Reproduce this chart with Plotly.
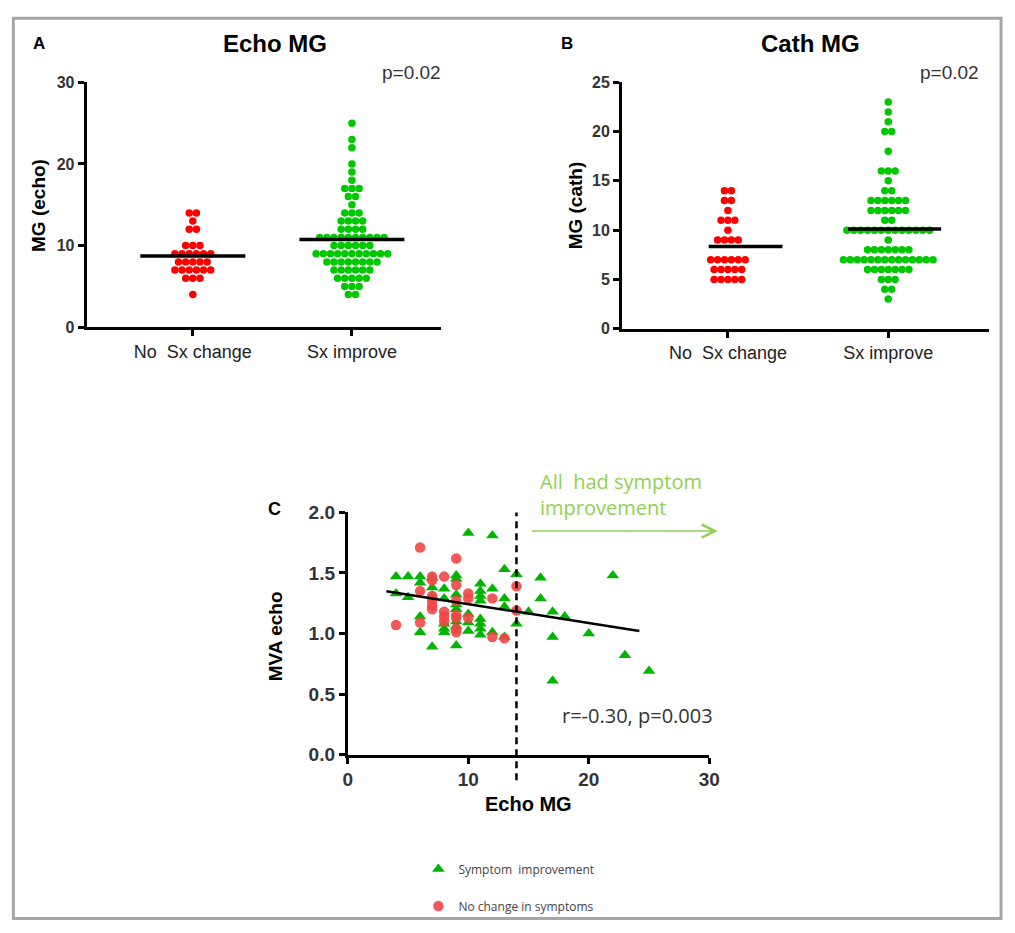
import numpy as np
import plotly.graph_objects as go
from collections import Counter

# ---------------- data ----------------
categories = ["No  Sx change", "Sx improve"]
echo_ticks = [0, 10, 20, 30]
cath_ticks = [0, 5, 10, 15, 20, 25]
c_x_ticks = [0, 10, 20, 30]
c_y_ticks = [0.0, 0.5, 1.0, 1.5, 2.0]

echo_no_change = [14, 14, 13, 12, 12, 10, 10, 10] + [9] * 6 + [8] * 5 + [7] * 6 + [6] * 3 + [4]
echo_improve = ([25, 23, 22, 20, 19, 18, 17, 17, 17, 16, 16, 15, 14, 14, 14] + [13] * 4 + [12] * 4
                + [11] * 10 + [10] * 6 + [9] * 11 + [8] * 8 + [7] * 6 + [6] * 5 + [5] * 3 + [4] * 2)

cath_no_change = [14, 14, 13, 13, 12, 11, 11, 11, 10] + [9] * 4 + [7] * 6 + [6] * 5 + [5] * 5
cath_improve = ([23, 22, 21, 20, 20, 18, 16, 16, 16, 15, 14, 14] + [13] * 6 + [12] * 6 + [11] * 2
                + [10] * 13 + [9] + [8] * 7 + [7] * 14 + [6] * 7 + [5] * 3 + [4] * 2 + [3])

# Panel C: echo MG vs MVA echo
imp_mg = [10, 12, 4, 5, 6, 6, 7, 9, 9, 13, 14, 16, 22, 16, 15, 17, 18, 14, 17, 20, 23, 25, 17, 7, 9,
          6, 6, 4, 5, 7, 7, 8, 8, 8, 8, 8, 9, 9, 9, 9, 9, 10, 10, 10, 11, 11, 11, 11, 11, 11, 11, 11,
          12, 12, 13, 13, 13]
imp_mva = [1.83, 1.81, 1.47, 1.47, 1.47, 1.42, 1.46, 1.48, 1.45, 1.53, 1.49, 1.46, 1.48, 1.29, 1.18,
           1.18, 1.14, 1.08, 0.97, 1.00, 0.82, 0.69, 0.61, 0.89, 0.90,
           1.01, 1.14, 1.33, 1.30, 1.38, 1.31, 1.37, 1.29, 1.08, 1.04, 1.01, 1.32, 1.24, 1.20, 1.10,
           1.06, 1.16, 1.09, 1.02, 1.41, 1.35, 1.31, 1.27, 1.12, 1.08, 1.04, 0.99,
           1.37, 1.01, 1.29, 1.22, 0.97]
noc_mg = [6, 9, 7, 7, 8, 9, 14, 6, 7, 7, 7, 7, 8, 8, 8, 9, 9, 9, 9, 10, 10, 10, 12, 12, 13, 14, 4, 6, 9]
noc_mva = [1.71, 1.62, 1.47, 1.44, 1.47, 1.40, 1.39, 1.35, 1.31, 1.27, 1.23, 1.20, 1.18, 1.14, 1.10,
           1.27, 1.15, 1.13, 1.01, 1.33, 1.29, 1.13, 1.29, 0.97, 0.96, 1.19, 1.07, 1.09, 1.04]

fit_slope = -0.0157
fit_intercept = 1.40
fit_x_span = [3.2, 24.2]
threshold_mg = 14

# ---------------- helpers ----------------
W, H = 1015, 933


def px(x):
    return x / W


def py(y):
    return 1 - y / H


def swarm(values, center, step):
    counts = Counter(values)
    xs, ys = [], []
    for v in sorted(counts):
        n = counts[v]
        for i in range(n):
            xs.append(center + (i - (n - 1) / 2) * step)
            ys.append(v)
    return xs, ys


def bold(labels, fmt="{}"):
    return ["<b>" + fmt.format(v) + "</b>" for v in labels]


RED = "#ff0000"
GREEN = "#00c800"
TXT = "#333333"
AXFONT = "Liberation Sans, Arial, sans-serif"

fig = go.Figure()

panels = [
    ("x", "y", echo_no_change, echo_improve, 0.045, [(-0.33, 0.33), (-0.33, 0.33)]),
    ("x2", "y2", cath_no_change, cath_improve, 0.043, [(-0.12, 0.34), (-0.25, 0.33)]),
]
for xa, ya, g0, g1, step, spans in panels:
    for idx, (vals, col) in enumerate([(g0, RED), (g1, GREEN)]):
        xs, ys = swarm(vals, idx, step)
        fig.add_trace(go.Scatter(x=xs, y=ys, mode="markers", xaxis=xa, yaxis=ya,
                                 marker=dict(color=col, size=7.5, line=dict(width=0)),
                                 showlegend=False, hoverinfo="skip"))
        m = float(np.mean(vals))
        fig.add_trace(go.Scatter(x=[idx + spans[idx][0], idx + spans[idx][1]], y=[m, m],
                                 mode="lines", xaxis=xa, yaxis=ya,
                                 line=dict(color="black", width=3.5),
                                 showlegend=False, hoverinfo="skip"))

# panel C
fig.add_trace(go.Scatter(x=imp_mg, y=imp_mva, mode="markers", xaxis="x3", yaxis="y3",
                         name="Symptom  improvement", legendgroup="a",
                         marker=dict(symbol="triangle-up", color="#00b400", size=11, line=dict(width=0))))
fig.add_trace(go.Scatter(x=noc_mg, y=noc_mva, mode="markers", xaxis="x3", yaxis="y3",
                         name="No change in symptoms", legendgroup="b",
                         marker=dict(symbol="circle", color="rgba(240,70,70,0.9)", size=10.5,
                                     line=dict(width=0))))
fx = np.array(fit_x_span)
fig.add_trace(go.Scatter(x=fx, y=fit_intercept + fit_slope * fx, mode="lines", xaxis="x3", yaxis="y3",
                         line=dict(color="black", width=2.5), showlegend=False, hoverinfo="skip"))

axis_common = dict(showline=True, linecolor="black", linewidth=3, ticks="outside", ticklen=6,
                   tickwidth=2.5, tickcolor="black", showgrid=False, zeroline=False,
                   tickfont=dict(family=AXFONT, size=16, color=TXT))

layout = dict(
    width=W, height=H, margin=dict(l=0, r=0, t=0, b=0),
    paper_bgcolor="white", plot_bgcolor="white",
    xaxis=dict(axis_common, domain=[px(83), px(443)], range=[-0.667, 1.56], anchor="y",
               tickvals=[0, 1], ticktext=categories,
               tickfont=dict(family=AXFONT, size=18, color="#222")),
    yaxis=dict(axis_common, domain=[py(324.5), py(74)], range=[0, 30], anchor="x",
               tickvals=echo_ticks, ticktext=bold(echo_ticks)),
    xaxis2=dict(axis_common, domain=[px(627), px(1000)], range=[-0.66, 1.63], anchor="y2",
                tickvals=[0, 1], ticktext=categories,
                tickfont=dict(family=AXFONT, size=18, color="#222")),
    yaxis2=dict(axis_common, domain=[py(326), py(74)], range=[0, 25], anchor="x2",
                tickvals=cath_ticks, ticktext=bold(cath_ticks)),
    xaxis3=dict(axis_common, domain=[px(348.3), px(715.5)], range=[0, 30], anchor="y3",
                tickvals=c_x_ticks, ticktext=bold(c_x_ticks),
                tickfont=dict(family=AXFONT, size=19, color=TXT)),
    yaxis3=dict(axis_common, domain=[py(761.7), py(514)], range=[0, 2], anchor="x3",
                tickvals=c_y_ticks, ticktext=bold(c_y_ticks, "{:.1f}"),
                tickfont=dict(family=AXFONT, size=19, color=TXT)),
    showlegend=True,
    legend=dict(x=px(420), y=py(864), xanchor="left", yanchor="top", traceorder="grouped",
                tracegroupgap=18, font=dict(family="Open Sans, sans-serif", size=12, color="#444"),
                bgcolor="rgba(0,0,0,0)"),
)
fig.update_layout(**layout)


def ann(text, x, y, size, bold_=False, color="black", family=AXFONT, angle=0, xanchor="center",
        yanchor="middle"):
    t = f"<b>{text}</b>" if bold_ else text
    fig.add_annotation(text=t, x=px(x), y=py(y), xref="paper", yref="paper", showarrow=False,
                       font=dict(size=size, color=color, family=family), textangle=angle,
                       xanchor=xanchor, yanchor=yanchor)


ann("A", 35, 34, 17, bold_=True)
ann("Echo MG", 274, 34, 24, bold_=True)
ann("p=0.02", 413, 64, 19, color=TXT)
ann("MG (echo)", 34, 200, 19, bold_=True, angle=-90)
ann("B", 571, 34, 17, bold_=True)
ann("Cath MG", 818, 34, 24, bold_=True)
ann("p=0.02", 960, 64, 19, color=TXT)
ann("MG (cath)", 580, 200, 19, bold_=True, angle=-90)
ann("C", 274, 510, 18, bold_=True)
ann("MVA echo", 275, 641, 19, bold_=True, angle=-90)
ann("Echo MG", 532, 812, 20, bold_=True)
ann("r=-0.30, p=0.003", 643, 722, 20, color=TXT, family="Open Sans, sans-serif")
fig.add_annotation(text="All  had symptom<br>improvement", x=px(542), y=py(466), xref="paper",
                   yref="paper", showarrow=False, align="left", xanchor="left", yanchor="top",
                   font=dict(size=20, color="#92d050", family="Open Sans, sans-serif"))
fig.add_annotation(x=px(724), y=py(533), xref="paper", yref="paper", text="", showarrow=True,
                   ax=-187, ay=0, axref="pixel", ayref="pixel", arrowhead=5, arrowsize=1.6,
                   arrowwidth=1.6, arrowcolor="#92d050")

# threshold dashed line and frame
fig.add_shape(type="line", xref="x3", yref="paper", x0=threshold_mg, x1=threshold_mg,
              y0=py(788), y1=py(514), line=dict(color="black", width=2.5, dash="7px,5px"))
fig.add_shape(type="rect", xref="paper", yref="paper", x0=px(8.5), x1=px(1012), y0=py(929.5),
              y1=py(8.5), line=dict(color="#a6a6a6", width=3))

fig.write_html("out.html")
